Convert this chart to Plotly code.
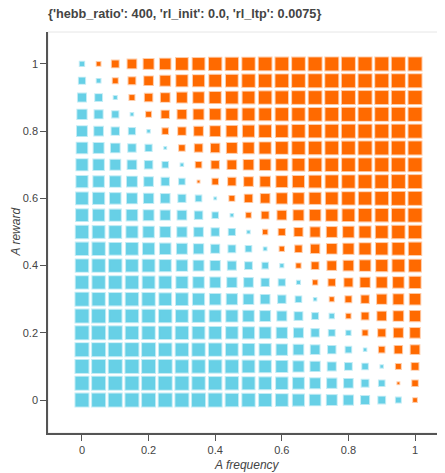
import numpy as np
import plotly.graph_objects as go

# Grid categories
a_frequency = [0.0, 0.05, 0.1, 0.15, 0.2, 0.25, 0.3, 0.35, 0.4, 0.45, 0.5,
               0.55, 0.6, 0.65, 0.7, 0.75, 0.8, 0.85, 0.9, 0.95, 1.0]
a_reward = [1.0, 0.95, 0.9, 0.85, 0.8, 0.75, 0.7, 0.65, 0.6, 0.55, 0.5,
            0.45, 0.4, 0.35, 0.3, 0.25, 0.2, 0.15, 0.1, 0.05, 0.0]

# Preference difference (A minus B, arbitrary units, max 42); one list per A-reward row
pref_r100 = [-14, 12, 22, 28, 32, 34, 38, 38, 40, 40, 40, 41, 41, 41, 42, 42, 42, 42, 42, 42, 42]
pref_r095 = [-20, -12, 16, 22, 28, 32, 36, 36, 38, 38, 40, 40, 41, 41, 42, 42, 42, 42, 42, 42, 42]
pref_r090 = [-26, -22, -10, 16, 24, 28, 32, 34, 36, 38, 38, 40, 40, 41, 41, 42, 42, 42, 42, 42, 42]
pref_r085 = [-30, -26, -20, -8, 16, 24, 28, 32, 34, 36, 38, 38, 40, 40, 41, 41, 42, 42, 42, 42, 42]
pref_r080 = [-32, -28, -24, -20, -8, 18, 24, 28, 32, 34, 36, 38, 38, 40, 40, 41, 42, 42, 42, 42, 42]
pref_r075 = [-34, -32, -28, -24, -20, -6, 18, 24, 27, 32, 34, 36, 38, 40, 40, 41, 41, 42, 42, 42, 42]
pref_r070 = [-36, -34, -32, -28, -24, -18, -8, 18, 24, 28, 31, 34, 36, 38, 40, 40, 41, 41, 42, 42, 42]
pref_r065 = [-36, -34, -34, -32, -28, -24, -18, 6, 18, 24, 28, 31, 35, 36, 38, 40, 40, 41, 41, 42, 42]
pref_r060 = [-38, -36, -34, -32, -30, -28, -23, -18, -6, 16, 24, 28, 33, 34, 36, 38, 40, 40, 41, 42, 42]
pref_r055 = [-38, -36, -36, -34, -32, -30, -28, -24, -18, -8, 15, 22, 28, 32, 34, 36, 38, 40, 40, 41, 42]
pref_r050 = [-40, -38, -38, -36, -34, -32, -30, -28, -24, -20, -8, 14, 20, 26, 30, 32, 34, 36, 38, 40, 40]
pref_r045 = [-40, -40, -38, -38, -36, -34, -32, -30, -26, -22, -18, -9, 14, 21, 27, 31, 33, 36, 37, 38, 40]
pref_r040 = [-40, -40, -40, -38, -38, -36, -34, -32, -30, -26, -22, -18, -10, 14, 22, 28, 31, 34, 36, 38, 38]
pref_r035 = [-40, -40, -40, -40, -38, -38, -36, -34, -32, -30, -28, -24, -20, -10, 14, 21, 26, 30, 33, 34, 36]
pref_r030 = [-42, -40, -40, -40, -40, -38, -38, -36, -34, -33, -31, -28, -24, -18, -8, 13, 19, 24, 30, 32, 34]
pref_r025 = [-42, -42, -40, -40, -40, -40, -38, -38, -36, -36, -34, -32, -29, -25, -19, -14, 14, 22, 28, 31, 33]
pref_r020 = [-42, -42, -42, -40, -40, -40, -40, -38, -38, -37, -36, -35, -33, -29, -24, -19, -14, 16, 23, 29, 31]
pref_r015 = [-42, -42, -42, -42, -42, -40, -40, -40, -40, -38, -37, -36, -34, -31, -28, -24, -18, -8, 18, 24, 28]
pref_r010 = [-42, -42, -42, -42, -42, -42, -40, -40, -40, -40, -38, -37, -36, -33, -30, -26, -22, -18, -8, 16, 22]
pref_r005 = [-42, -42, -42, -42, -42, -42, -42, -40, -40, -40, -39, -38, -37, -35, -32, -30, -28, -22, -18, 6, 18]
pref_r000 = [-42, -42, -42, -42, -42, -42, -42, -42, -42, -40, -40, -39, -38, -36, -34, -32, -30, -26, -22, -16, 12]

pref_rows = [pref_r100, pref_r095, pref_r090, pref_r085, pref_r080, pref_r075, pref_r070,
             pref_r065, pref_r060, pref_r055, pref_r050, pref_r045, pref_r040, pref_r035,
             pref_r030, pref_r025, pref_r020, pref_r015, pref_r010, pref_r005, pref_r000]
pref_max = 42.0

tick_vals = [0, 0.2, 0.4, 0.6, 0.8, 1.0]
tick_text = ["0", "0.2", "0.4", "0.6", "0.8", "1"]

ORANGE = "#ff6a00"
ORANGE_LINE = "rgba(255,106,0,0.35)"
CYAN = "#67d0e6"
CYAN_LINE = "rgba(103,208,230,0.4)"
MAX_PX = 13.0

P = np.array(pref_rows, dtype=float)
X, Y = np.meshgrid(np.array(a_frequency), np.array(a_reward))
xs, ys, vs = X.ravel(), Y.ravel(), P.ravel()

fig = go.Figure()
for mask, col, lcol in [(vs > 0, ORANGE, ORANGE_LINE), (vs < 0, CYAN, CYAN_LINE)]:
    fig.add_trace(go.Scatter(
        x=xs[mask], y=ys[mask], mode="markers",
        marker=dict(symbol="square", size=np.abs(vs[mask]) / pref_max * MAX_PX,
                    color=col, opacity=1, line=dict(color=lcol, width=2)),
        hoverinfo="skip", showlegend=False))

FONT = "Liberation Sans, Arial, Helvetica, sans-serif"
axis_common = dict(showgrid=False, zeroline=False, showline=True, linecolor="#555",
                   linewidth=1.5, ticks="outside", ticklen=6, tickcolor="#555", tickwidth=1,
                   tickfont=dict(family=FONT, size=11, color="#444"),
                   tickvals=tick_vals, ticktext=tick_text, fixedrange=True)

# page has an 8px body margin, so the figure is laid out 8px up/left of the target positions
W, H = 437, 465
fig.update_layout(
    width=W, height=H,
    margin=dict(l=40, r=0, t=24, b=40),
    paper_bgcolor="white", plot_bgcolor="white",
    xaxis=dict(range=[-0.102, 1.09], **axis_common),
    yaxis=dict(range=[-0.098, 1.095], **axis_common),
    title=dict(text="{'hebb_ratio': 400, 'rl_init': 0.0, 'rl_ltp': 0.0075}",
               font=dict(family=FONT, size=12.7, color="#444", weight="bold"),
               x=40 / W, xanchor="left", xref="container",
               y=1 - 6 / H, yanchor="middle", yref="container"),
    shapes=[dict(type="rect", xref="paper", yref="paper", x0=0, x1=1, y0=0, y1=1,
                 line=dict(color="#e6e6e6", width=1), layer="below")],
    annotations=[
        dict(text="A frequency", xref="paper", yref="paper", x=0.5, y=(433 - 465) / 401,
             xanchor="center", yanchor="middle", showarrow=False,
             font=dict(family=FONT, size=12, color="#444", style="italic")),
        dict(text="A reward", xref="paper", yref="paper", x=(15 - 48) / 397, y=0.5,
             xanchor="center", yanchor="middle", showarrow=False, textangle=-90,
             font=dict(family=FONT, size=12, color="#444", style="italic")),
    ],
)

fig.write_html("out.html")
